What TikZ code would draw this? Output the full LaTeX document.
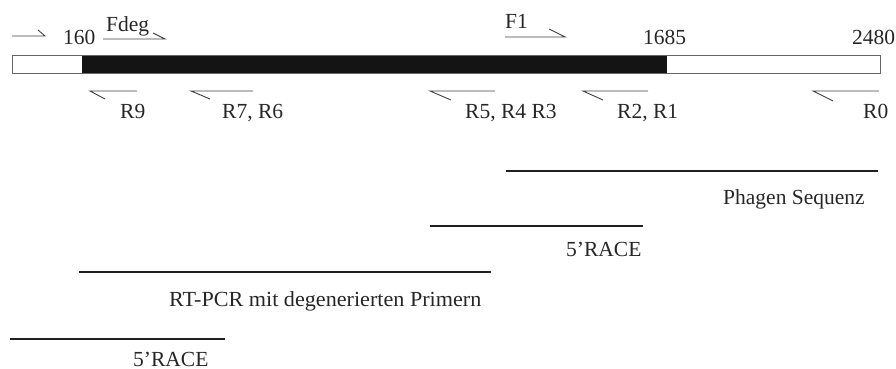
\documentclass[tikz,border=0pt]{standalone}
\usepackage{fontspec}
\setmainfont{Liberation Serif}
\begin{document}
\begin{tikzpicture}[x=1pt,y=-1pt,
  lbl/.style={anchor=base west,inner sep=0pt,font=\fontsize{21.5}{21.5}\selectfont,text=black!85},
  primer/.style={draw=black!75,line width=0.9pt},
  prod/.style={draw=black!88,line width=2.4pt},
  barfr/.style={draw=black!60,line width=0.9pt}]
\useasboundingbox (0,0) rectangle (896,369);
% gene bar
\node[barfr,fill=white,minimum width=868pt,minimum height=18pt,inner sep=0pt,anchor=north west] (bar) at (12,55) {};
\node[fill=black!92,minimum width=585pt,minimum height=18pt,inner sep=0pt,anchor=north west] (cds) at (82,55) {};
\draw[barfr] (bar.north west) rectangle (bar.south east);
% forward primers
\coordinate (p0a) at (12,36); \coordinate (p0b) at (45,36); \coordinate (p0c) at (38,30);
\draw[primer] (p0a) -- (p0b) -- (p0c);
\coordinate (fda) at (103,39); \coordinate (fdb) at (165,39); \coordinate (fdc) at (153,33);
\draw[primer] (fda) -- (fdb) -- (fdc);
\coordinate (f1a) at (505,37); \coordinate (f1b) at (565,37); \coordinate (f1c) at (549,29);
\draw[primer] (f1a) -- (f1b) -- (f1c);
% reverse primers
\coordinate (r9a) at (137,91); \coordinate (r9b) at (90,91); \coordinate (r9c) at (105,99);
\draw[primer] (r9a) -- (r9b) -- (r9c);
\coordinate (r7a) at (253,91); \coordinate (r7b) at (191,91); \coordinate (r7c) at (210,99);
\draw[primer] (r7a) -- (r7b) -- (r7c);
\coordinate (r5a) at (495,91); \coordinate (r5b) at (430,91); \coordinate (r5c) at (451,100);
\draw[primer] (r5a) -- (r5b) -- (r5c);
\coordinate (r2a) at (648,91); \coordinate (r2b) at (583,91); \coordinate (r2c) at (603,100);
\draw[primer] (r2a) -- (r2b) -- (r2c);
\coordinate (r0a) at (879,91); \coordinate (r0b) at (813,91); \coordinate (r0c) at (833,101);
\draw[primer] (r0a) -- (r0b) -- (r0c);
% labels top
\node[lbl] (t160) at (63,45) {160};
\node[lbl] (tfdeg) at (106,32) {Fdeg};
\node[lbl] (tf1) at (505,29) {F1};
\node[lbl] (t1685) at (643,45) {1685};
\node[lbl] (t2480) at (852,45) {2480};
% labels reverse
\node[lbl] (tr9) at (120,118) {R9};
\node[lbl] (tr7) at (222,118) {R7, R6};
\node[lbl] (tr5) at (465,118) {R5, R4 R3};
\node[lbl] (tr2) at (617,118) {R2, R1};
\node[lbl] (tr0) at (863,118) {R0};
% products
\coordinate (ph1) at (506,171); \coordinate (ph2) at (878,171);
\draw[prod] (ph1) -- (ph2);
\node[lbl] (tph) at (723,204) {Phagen Sequenz};
\coordinate (ra1) at (430,226); \coordinate (ra2) at (643,226);
\draw[prod] (ra1) -- (ra2);
\node[lbl] (tra) at (566,256) {5’RACE};
\coordinate (rt1) at (79,272); \coordinate (rt2) at (491,272);
\draw[prod] (rt1) -- (rt2);
\node[lbl,xscale=1.03] (trt) at (169,306) {RT-PCR mit degenerierten Primern};
\coordinate (rb1) at (10,339); \coordinate (rb2) at (225,339);
\draw[prod] (rb1) -- (rb2);
\node[lbl] (trb) at (133,366) {5’RACE};
\end{tikzpicture}
\end{document}
